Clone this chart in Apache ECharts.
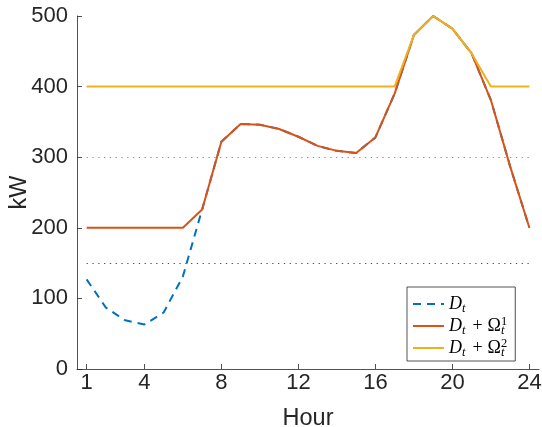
<!DOCTYPE html>
<html>
<head>
<meta charset="utf-8">
<script src="https://cdn.jsdelivr.net/npm/echarts@6/dist/echarts.min.js"></script>
<style>
html,body{margin:0;padding:0;background:#fff;}
#chart{width:542px;height:427px;}
</style>
</head>
<body>
<div id="chart"></div>
<script>
const hours = [1,2,3,4,5,6,7,8,9,10,11,12,13,14,15,16,17,18,19,20,21,22,23,24];
const demand = [127,87,69,63,80,131,226,322,347,346,340,329,316,309,306,328,390,473,500,482,447,381,287,200];
const demandOmega1 = [200,200,200,200,200,200,226,322,347,346,340,329,316,309,306,328,390,473,500,482,447,381,287,200];
const demandOmega2 = [400,400,400,400,400,400,400,400,400,400,400,400,400,400,400,400,400,473,500,482,447,400,400,400];
const xTicks = [1,4,8,12,16,20,24];
const yTicks = [0,100,200,300,400,500];
const upperLevel = 300;
const lowerLevel = 150;
const seriesNames = ['D_t','D_t + Ω_t^1','D_t + Ω_t^2'];

const AX = '#262626';
const SANS = 'Liberation Sans';
const SERIF = 'Liberation Serif';

const pairs = arr => hours.map((h, i) => [h, arr[i]]);

const legendLabels = {
  'D_t': '{i|D}{sb|t}',
  'D_t + Ω_t^1': '{i|D}{sb|t}{pl|+}{r|Ω}{sp|1}{sb|t}',
  'D_t + Ω_t^2': '{i|D}{sb|t}{pl|+}{r|Ω}{sp|2}{sb|t}'
};

const chart = echarts.init(document.getElementById('chart'), null, {renderer: 'canvas'});
chart.setOption({
  animation: false,
  backgroundColor: '#fff',
  grid: {left: 77, right: 3, top: 16, bottom: 58, containLabel: false, outerBoundsMode: 'none'},
  xAxis: {
    type: 'value', min: 0.5, max: 24.5,
    name: 'Hour', nameLocation: 'middle', nameGap: 38,
    nameTextStyle: {fontFamily: SANS, fontSize: 23.5, color: AX},
    axisLine: {show: true, onZero: false, lineStyle: {color: AX, width: 0.8}},
    axisTick: {show: true, inside: true, length: 5, lineStyle: {color: AX, width: 0.8}, customValues: xTicks},
    axisLabel: {fontFamily: SANS, fontSize: 22, color: AX, margin: 3, customValues: xTicks},
    splitLine: {show: false}
  },
  yAxis: {
    type: 'value', min: yTicks[0], max: yTicks[yTicks.length-1], interval: 100,
    name: 'kW', nameLocation: 'middle', nameGap: 45, nameMoveOverlap: false,
    nameTextStyle: {fontFamily: SANS, fontSize: 23.5, color: AX},
    axisLine: {show: true, onZero: false, lineStyle: {color: AX, width: 0.8}},
    axisTick: {show: true, inside: true, length: 5, lineStyle: {color: AX, width: 0.8}},
    axisLabel: {fontFamily: SANS, fontSize: 22, color: AX, margin: 9},
    splitLine: {show: false}
  },
  legend: {
    orient: 'vertical', left: 407, top: 287,
    padding: [8, 8, 2, 5], itemGap: 0, itemWidth: 31, itemHeight: 12,
    backgroundColor: '#fff', borderColor: AX, borderWidth: 0.8, borderRadius: 0,
    itemStyle: {opacity: 0},
    data: seriesNames,
    formatter: name => legendLabels[name],
    textStyle: {
      color: '#000',
      rich: {
        i: {fontFamily: SERIF, fontStyle: 'italic', fontSize: 18, lineHeight: 22, verticalAlign: 'middle', color: '#000'},
        r: {fontFamily: SERIF, fontSize: 18, lineHeight: 22, verticalAlign: 'middle', color: '#000'},
        pl: {fontFamily: SERIF, fontSize: 18, lineHeight: 22, verticalAlign: 'middle', padding: [0, 5, 0, 7], color: '#000'},
        sb: {fontFamily: SERIF, fontStyle: 'italic', fontSize: 12.5, lineHeight: 22, verticalAlign: 'bottom', color: '#000'},
        sp: {fontFamily: SERIF, fontSize: 12.5, lineHeight: 22, verticalAlign: 'top', width: 0.01, color: '#000'}
      }
    }
  },
  series: [
    {
      name: 'refs', type: 'line', data: [], silent: true,
      markLine: {
        silent: true, symbol: 'none', label: {show: false},
        data: [
          [{coord: [hours[0], upperLevel], lineStyle: {color: '#77AC30', type: [1.3, 4.5], width: 1.2}},
           {coord: [hours[hours.length-1], upperLevel]}],
          [{coord: [hours[0], lowerLevel], lineStyle: {color: '#7E2F8E', type: [1.3, 4.5], width: 1.2}},
           {coord: [hours[hours.length-1], lowerLevel]}]
        ]
      }
    },
    {
      name: seriesNames[0], type: 'line', data: pairs(demand), symbol: 'none',
      lineStyle: {color: '#0072BD', width: 2, type: [8, 6]}, itemStyle: {color: '#0072BD'}, z: 3
    },
    {
      name: seriesNames[1], type: 'line', data: pairs(demandOmega1), symbol: 'none',
      lineStyle: {color: '#D95319', width: 2}, itemStyle: {color: '#D95319'}, z: 4
    },
    {
      name: seriesNames[2], type: 'line', data: pairs(demandOmega2), symbol: 'none',
      lineStyle: {color: '#EDB120', width: 2}, itemStyle: {color: '#EDB120'}, z: 5
    }
  ]
});
</script>
</body>
</html>
